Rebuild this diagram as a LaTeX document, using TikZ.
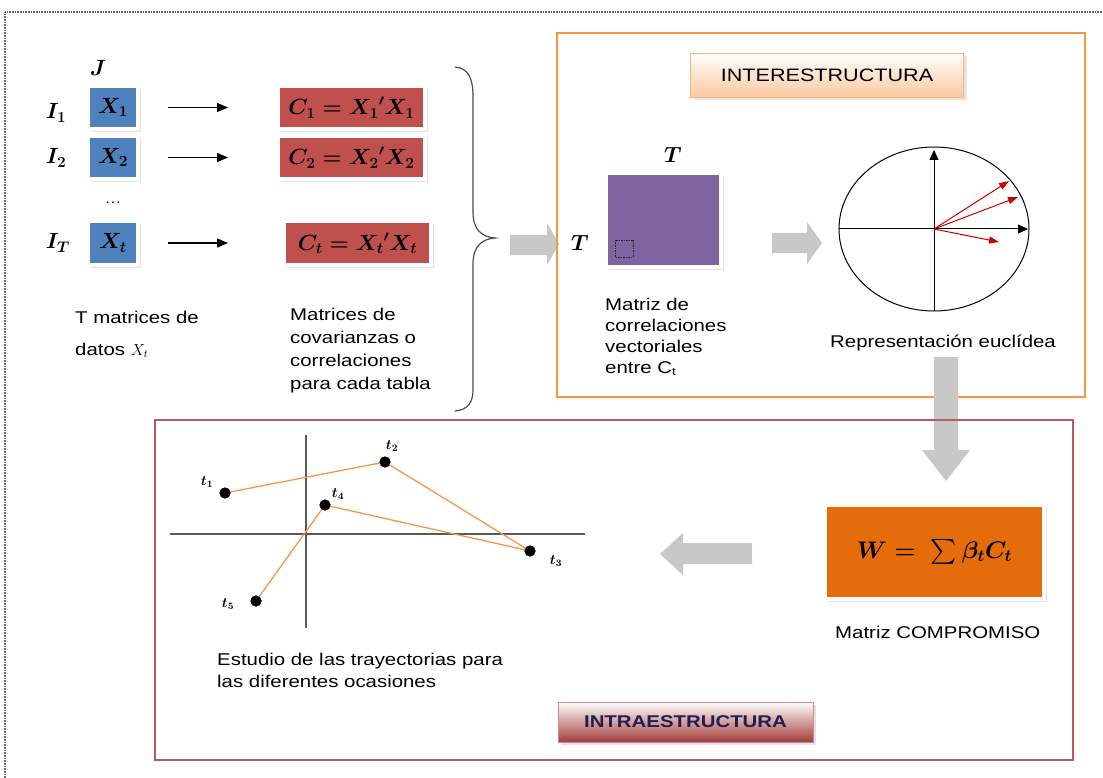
\RequirePackage{fix-cm}
\documentclass[tikz,border=0pt]{standalone}
\usepackage{exscale}
\usepackage{fontspec}
\setmainfont{Liberation Sans}[FakeStretch=1.2]
\usetikzlibrary{arrows.meta,shadows,calc}
\definecolor{xblue}{HTML}{4F81BD}
\definecolor{cred}{HTML}{C0504D}
\definecolor{purp}{HTML}{8064A2}
\definecolor{word}{HTML}{E46C0A}
\definecolor{interb}{HTML}{F79646}
\definecolor{intrab}{HTML}{B85B59}
\definecolor{garrowc}{HTML}{C8C8C8}
\definecolor{peachb}{HTML}{FAC090}
\definecolor{intrad}{HTML}{A23D3A}
\definecolor{navytxt}{HTML}{1F2050}
\definecolor{trajc}{HTML}{F79646}
\definecolor{framec}{HTML}{6A6A6A}
\begin{document}
\begin{tikzpicture}[x=1pt,y=-1pt,
  mathf/.style={font=\fontsize{22}{24}\selectfont\boldmath},
  txt/.style={font=\fontsize{17}{21}\selectfont, align=left, inner sep=0pt},
  framedbox/.style={draw=white, line width=4pt, inner sep=0pt,
     drop shadow={shadow xshift=3pt, shadow yshift=-3pt, fill=gray!45}},
  xbox/.style={framedbox, fill=xblue, minimum width=50pt, minimum height=43pt, mathf},
  cbox/.style={framedbox, fill=cred, minimum width=147pt, minimum height=43pt, mathf},
  blackarr/.style={line width=1.4pt, -{Triangle[length=11pt,width=9pt]}},
  garrow/.style={fill=garrowc, draw=none},
  axarr/.style={line width=1pt, -{Triangle[length=10pt,width=9pt]}},
  redarr/.style={draw=red!80!black, line width=1pt, -{Triangle[length=10pt,width=7pt]}},
  dot/.style={circle, fill=black, inner sep=0pt, minimum size=11pt},
  tlab/.style={font=\fontsize{14}{16}\selectfont\boldmath, inner sep=0pt},
  traj/.style={draw=trajc, line width=1.3pt},
  plotax/.style={draw=gray!70!black, line width=2pt}
]
\useasboundingbox (0,0) rectangle (1103,778);

% outer dotted frame
\draw[framec, line width=2.2pt, dash pattern=on 0.8pt off 0.8pt] (5,778) -- (5,12) -- (1103,12);

% ---------- left part ----------
\node[mathf] (jlab) at (98,68) {$J$};
\node[mathf] (i1) at (56,113) {$I_1$};
\node[mathf] (i2) at (56,158) {$I_2$};
\node[mathf] (it) at (58,243) {$I_T$};
\node[font=\fontsize{14}{16}\selectfont] (dots) at (113,203) {\dots};

\node[xbox] (x1) at (113,107.5) {$X_1$};
\node[xbox] (x2) at (113,157.5) {$X_2$};
\node[xbox] (xt) at (113,243) {$X_t$};

\node[cbox] (c1) at (351.5,107.5) {$C_1 = {X_1}'X_1$};
\node[cbox] (c2) at (351.5,157.5) {$C_2 = {X_2}'X_2$};
\node[cbox] (ct) at (357.5,243) {$C_t = {X_t}'X_t$};

\draw[blackarr, shorten <=28pt, shorten >=48pt] (x1) -- (c1);
\draw[blackarr, shorten <=28pt, shorten >=48pt] (x2) -- (c2);
\draw[blackarr, shorten <=28pt, shorten >=54pt] (xt) -- (ct);

\node[txt, anchor=north west, font=\fontsize{17}{23}\selectfont] (tmat) at (75,310.5)
  {T matrices de\\[9pt]datos {\fontsize{16}{18}\selectfont$X_t$}};
\node[txt, anchor=north west, font=\fontsize{17}{23}\selectfont] (cov) at (290,307.5)
  {Matrices de\\covarianzas o\\correlaciones\\para cada tabla};

% brace
\draw[gray!60!black, line width=1.2pt] (455,67) .. controls (468,68) and (473,78) .. (473,96)
  -- (473,212) .. controls (473,230) and (482,237) .. (495,238)
  .. controls (482,239) and (473,246) .. (473,264)
  -- (473,390) .. controls (473,402) and (468,410) .. (455,411);

% gray arrow to interestructura
\fill[garrow] (510,235) -- (547,235) -- (547,223) -- (559,244) -- (547,265) -- (547,255) -- (510,255) -- cycle;

% ---------- interestructura ----------
\node[draw=interb, line width=1.6pt, minimum width=528pt, minimum height=364pt, inner sep=0pt] (inter) at (821,215) {};
\node[draw=peachb!80!orange, line width=0.8pt, top color=white, bottom color=peachb!85,
   minimum width=273pt, minimum height=44pt, inner sep=0pt,
   font=\fontsize{18}{20}\selectfont,
   drop shadow={shadow xshift=3pt, shadow yshift=-3pt, fill=gray!40}] (interlab) at (827,75) {INTERESTRUCTURA};

\node[mathf] (ttop) at (673,155) {$T$};
\node[mathf] (tleft) at (580,243) {$T$};
\node[framedbox, fill=purp, minimum width=115pt, minimum height=94pt] (cmat) at (663.5,220) {};
\draw[gray!30!black, line width=0.6pt, dash pattern=on 1.5pt off 1pt] (615,240) rectangle (633,257);

\node[txt, anchor=north west] (cmtxt) at (605,297.5)
  {Matriz de\\correlaciones\\vectoriales\\entre C{\fontsize{11}{12}\selectfont\raisebox{-2pt}{t}}};

\fill[garrow] (772,233) -- (807,233) -- (807,222) -- (822,243) -- (807,264) -- (807,253) -- (772,253) -- cycle;

% euclidean representation
\coordinate (o) at (934,229);
\draw[line width=1pt] (o) ellipse [x radius=95pt, y radius=82pt];
\coordinate (vbot) at (934,311);
\coordinate (vtop) at (934,150);
\coordinate (hl) at (839,229);
\coordinate (hr) at (1028,229);
\draw[axarr] (vbot) -- (vtop);
\draw[axarr] (hl) -- (hr);
\coordinate (v1) at (1009,181);
\coordinate (v2) at (1018,197);
\coordinate (v3) at (999,242);
\draw[redarr] (o) -- (v1);
\draw[redarr] (o) -- (v2);
\draw[redarr] (o) -- (v3);

\node[txt, anchor=base west] (eucl) at (830,347) {Representación euclídea};

% down arrow
\fill[garrow] (934,357) -- (958,357) -- (958,450) -- (970,450) -- (946,481) -- (922,450) -- (934,450) -- cycle;

% ---------- intraestructura ----------
\node[draw=intrab, line width=1.6pt, minimum width=918pt, minimum height=340pt, inner sep=0pt] (intra) at (614,590) {};

\node[framedbox, fill=word, minimum width=219pt, minimum height=94pt,
   font=\fontsize{24}{26}\selectfont\boldmath] (wbox) at (934.5,552) {$W =\; \textstyle\sum \beta_t C_t$};
\node[txt, anchor=base west] (comp) at (835,638) {Matriz COMPROMISO};

\fill[garrow] (752,543) -- (683,543) -- (683,533) -- (660,554) -- (683,575) -- (683,564) -- (752,564) -- cycle;

% trajectory plot
\coordinate (axl) at (170,534);
\coordinate (axr) at (585,534);
\coordinate (axt) at (306,435);
\coordinate (axb) at (306,628);
\draw[plotax] (axl) -- (axr);
\draw[plotax] (axt) -- (axb);

\node[dot] (p1) at (225,493) {};
\node[dot] (p2) at (385,462) {};
\node[dot] (p3) at (530,551) {};
\node[dot] (p4) at (325,505) {};
\node[dot] (p5) at (256,601) {};
\draw[traj] (p1.center) -- (p2.center) -- (p3.center) -- (p4.center) -- (p5.center);
\node[dot] at (p1) {};
\node[dot] at (p2) {};
\node[dot] at (p3) {};
\node[dot] at (p4) {};
\node[dot] at (p5) {};

\node[tlab] (l1) at (207,482) {$t_1$};
\node[tlab] (l2) at (392,446) {$t_2$};
\node[tlab] (l3) at (556,561) {$t_3$};
\node[tlab] (l4) at (338,494) {$t_4$};
\node[tlab] (l5) at (228,604) {$t_5$};

\node[txt, anchor=north west, font=\fontsize{17}{22}\selectfont] (estud) at (217,652.5)
  {Estudio de las trayectorias para\\las diferentes ocasiones};

\node[draw=intrab!70, line width=0.8pt, top color=white, bottom color=intrad,
   minimum width=255pt, minimum height=40pt, inner sep=0pt,
   font=\fontsize{17}{19}\selectfont\bfseries, text=navytxt,
   drop shadow={shadow xshift=3pt, shadow yshift=-3pt, fill=gray!45}] (intralab) at (685.5,722) {INTRAESTRUCTURA};
\end{tikzpicture}
\end{document}
